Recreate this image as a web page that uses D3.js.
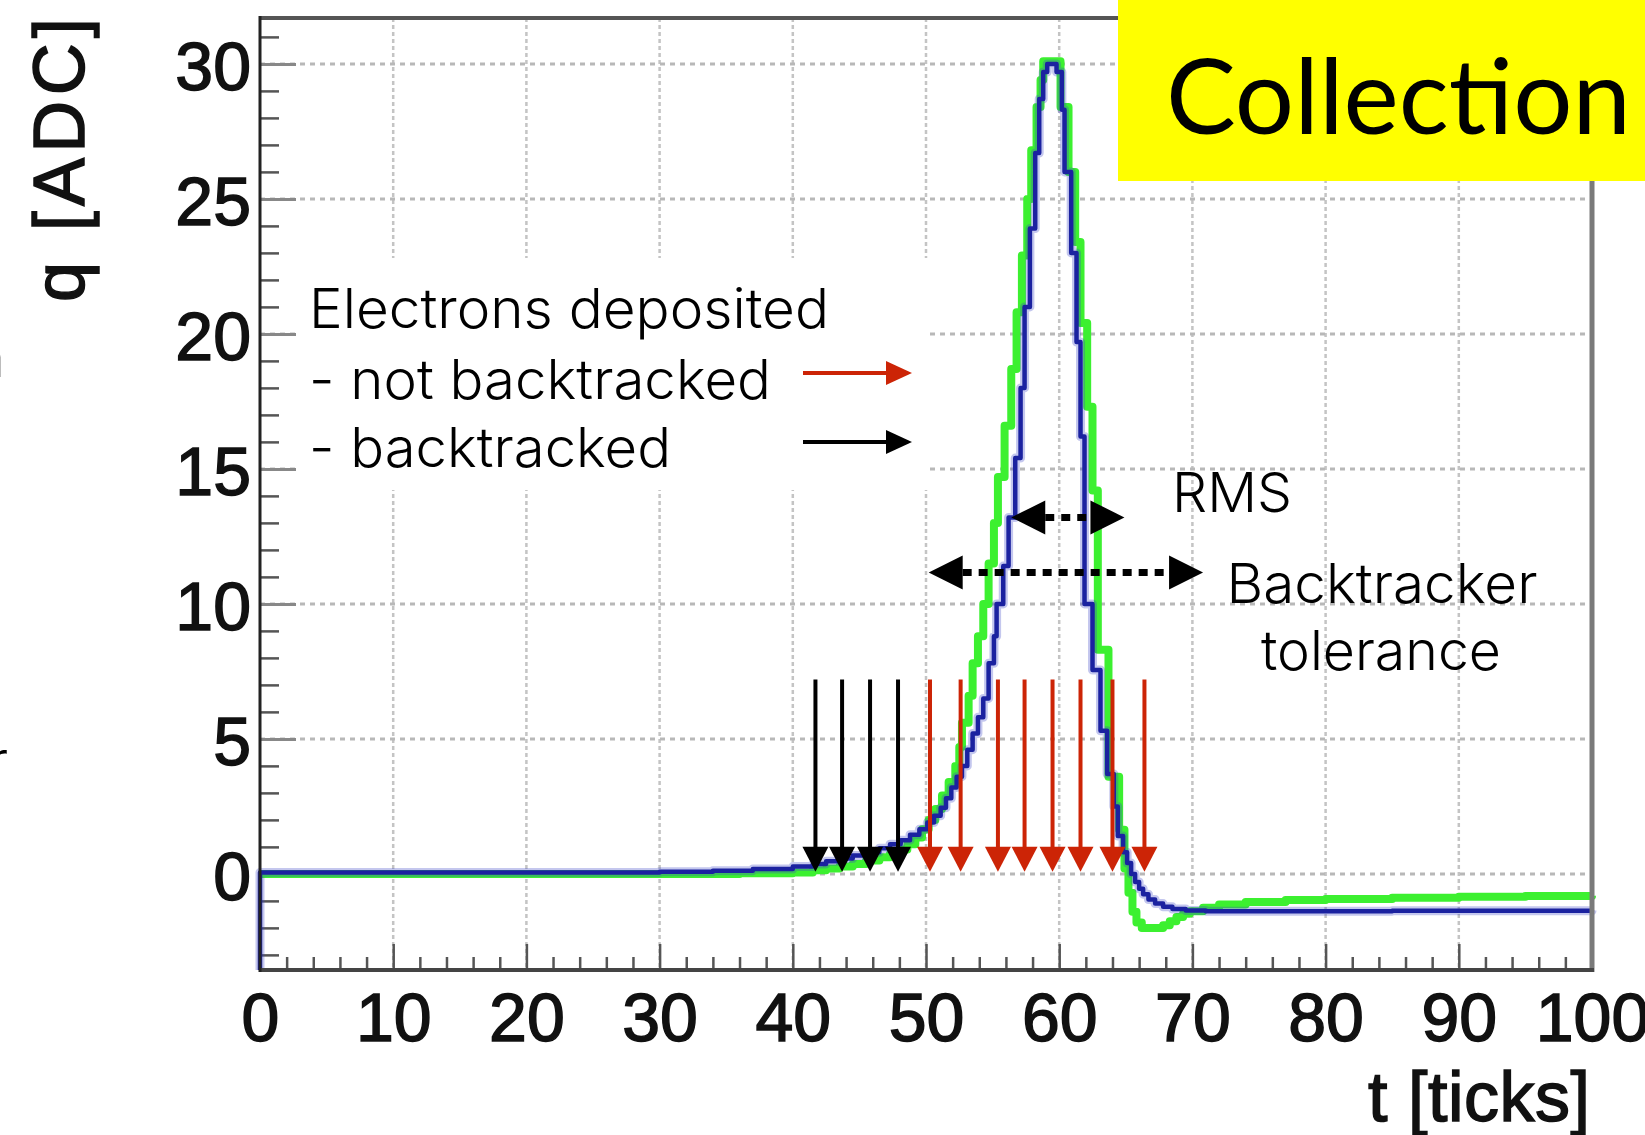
<!DOCTYPE html>
<html>
<head>
<meta charset="utf-8">
<script src="https://cdn.jsdelivr.net/npm/d3@7"></script>
<style>
	body { margin: 0; background: #fff; }
	svg { display: block; }
	.lbl { font-family: 'Liberation Sans', Arial, sans-serif; fill: #111; stroke: #111; stroke-width: 1.5px; }
	.note { font-family: Inter, Roboto, sans-serif; font-weight: 300; fill: #000; }
</style>
</head>
<body>
<div id="viz"></div>
<script>
const WIDTH = 1645
const HEIGHT = 1135

// blue histogram: bin start (ticks) and content (ADC)
const tBlue = [0, 30, 34, 37, 40, 41.5, 42.5, 43.5, 44.5, 45.5, 46.5, 47.3, 48.1, 48.8, 49.5, 50.1,
	50.6, 51.1, 51.5, 51.9, 52.3, 52.7, 53.1, 53.5, 53.9, 54.3, 54.7, 55.1, 55.3, 55.8, 56.2, 56.7,
	57.1, 57.4, 57.8, 58.2, 58.5, 58.8, 59.1, 59.8, 60.2, 60.4, 60.9, 61.3, 61.6, 61.9, 62.5, 63.1,
	63.6, 64.1, 64.4, 64.8, 65.1, 65.4, 65.7, 66.0, 66.3, 66.7, 67.2, 67.8, 68.5, 69.5, 71, 85, 100]
const qBlue = [0.05, 0.08, 0.12, 0.18, 0.27, 0.37, 0.47, 0.57, 0.68, 0.8, 0.95, 1.1, 1.25, 1.45, 1.65, 1.9,
	2.15, 2.45, 2.8, 3.2, 3.6, 4.0, 4.6, 5.2, 5.8, 6.5, 7.8, 8.8, 10.0, 11.4, 13.2, 15.4,
	18.0, 21.0, 23.9, 26.7, 28.7, 29.7, 30.0, 29.7, 28.3, 26.0, 23.0, 19.7, 16.2, 10.0, 7.55, 5.3,
	3.7, 2.5, 1.4, 0.8, 0.4, 0.0, -0.3, -0.55, -0.75, -0.95, -1.1, -1.22, -1.3, -1.36, -1.38, -1.37, -1.36]

// green histogram
const tGreen = [0, 36, 40, 41.5, 42.5, 43.5, 44.5, 45.5, 46.5, 47.3, 48.0, 48.6, 49.2, 49.7, 50.2,
	50.7, 51.2, 51.7, 52.2, 52.5, 52.7, 53.2, 53.5, 53.9, 54.3, 54.7, 55.1, 55.4, 55.9, 56.4, 56.8,
	57.2, 57.6, 57.9, 58.3, 58.6, 58.8, 60.1, 60.7, 61.2, 61.6, 62.1, 62.5, 62.9, 63.7, 64.5, 64.9,
	65.2, 65.5, 65.8, 66.2, 67.8, 68.3, 68.8, 69.3, 69.8, 70.8, 72, 74, 77, 80, 85, 90, 95, 100]
const qGreen = [0.0, 0.02, 0.05, 0.13, 0.2, 0.27, 0.37, 0.5, 0.62, 0.75, 0.9, 1.1, 1.35, 1.65, 2.0,
	2.4, 2.9, 3.4, 4.0, 4.7, 5.6, 6.6, 7.8, 8.8, 10.0, 11.5, 13.0, 14.7, 16.6, 18.7, 20.8,
	22.9, 25.0, 26.8, 28.4, 29.4, 30.1, 28.4, 26.0, 23.4, 20.4, 17.3, 14.2, 8.3, 3.6, 1.63, 0.2,
	-0.7, -1.4, -1.8, -2.0, -1.9, -1.75, -1.6, -1.48, -1.38, -1.25, -1.13, -1.04, -0.97, -0.93, -0.88, -0.85, -0.82, -0.81]

// deposited electrons (ticks)
const backtracked = [41.7, 43.7, 45.8, 47.9]
const notBacktracked = [50.3, 52.6, 55.4, 57.4, 59.5, 61.6, 64.0, 66.4]
const ARROW_TOP = 7.2
const ARROW_TIP = 0.08

// width arrows [from, to, level]
const rmsSpan = [56.4, 64.9, 13.2]
const toleranceSpan = [50.2, 70.8, 11.16]

const xMajor = d3.range(0, 101, 10)
const xMinor = d3.range(0, 101, 2).filter((v) => v % 10 !== 0)
const yMajor = [0, 5, 10, 15, 20, 25, 30]
const yMinor = d3.range(-3, 32, 1).filter((v) => v % 5 !== 0)

const x = d3.scaleLinear().domain([0, 100]).range([260, 1592])
const y = d3.scaleLinear().domain([-3.56, 31.7]).range([970, 18])

const svg = d3.select('#viz').append('svg').attr('width', WIDTH).attr('height', HEIGHT)

// grid
const grid = svg.append('g')
grid.selectAll('line.vg')
	.data(xMajor.filter((v) => v > 0 && v < 100))
	.enter()
	.append('line')
	.attr('x1', (d) => x(d)).attr('x2', (d) => x(d))
	.attr('y1', y.range()[1]).attr('y2', y.range()[0])
	.attr('stroke', '#c4c4c4').attr('stroke-width', 2.5).attr('stroke-dasharray', '4,3')
grid.selectAll('line.hg')
	.data(yMajor)
	.enter()
	.append('line')
	.attr('x1', x.range()[0]).attr('x2', x.range()[1])
	.attr('y1', (d) => y(d)).attr('y2', (d) => y(d))
	.attr('stroke', '#b8b8b8').attr('stroke-width', 3).attr('stroke-dasharray', '5,5')

// white box behind the legend
svg.append('rect')
	.attr('x', 297).attr('y', 258).attr('width', 631).attr('height', 232)
	.attr('fill', '#fff')

// axes
const yAxis = svg.append('g').attr('transform', `translate(${x.range()[0]},0)`)
	.call(d3.axisLeft(y).tickValues(yMajor).tickSizeInner(-36).tickSizeOuter(0).tickPadding(9))
yAxis.select('.domain').remove()
yAxis.selectAll('.tick line').attr('stroke', '#888').attr('stroke-width', 3)
yAxis.selectAll('.tick text').attr('class', 'lbl').attr('font-size', 68).attr('dy', '0.37em')

const yMinorAxis = svg.append('g').attr('transform', `translate(${x.range()[0]},0)`)
	.call(d3.axisLeft(y).tickValues(yMinor).tickSize(-19).tickFormat(''))
yMinorAxis.select('.domain').remove()
yMinorAxis.selectAll('.tick line').attr('stroke', '#555').attr('stroke-width', 2.5)

const xAxis = svg.append('g').attr('transform', `translate(0,${y.range()[0]})`)
	.call(d3.axisBottom(x).tickValues(xMajor).tickSizeInner(-26).tickSizeOuter(0).tickPadding(23))
xAxis.select('.domain').remove()
xAxis.selectAll('.tick line').attr('stroke', '#555').attr('stroke-width', 2.5)
xAxis.selectAll('.tick text').attr('class', 'lbl').attr('font-size', 68).attr('dy', '0.71em')

const xMinorAxis = svg.append('g').attr('transform', `translate(0,${y.range()[0]})`)
	.call(d3.axisBottom(x).tickValues(xMinor).tickSize(-13).tickFormat(''))
xMinorAxis.select('.domain').remove()
xMinorAxis.selectAll('.tick line').attr('stroke', '#555').attr('stroke-width', 2.5)

// curves
const step = d3.line().x((d) => x(d[0])).y((d) => y(d[1])).curve(d3.curveStepAfter)
const greenPts = tGreen.map((t, i) => [t, qGreen[i]])
const bluePts = [[0, y.domain()[0]]].concat(tBlue.map((t, i) => [t, qBlue[i]]))

svg.append('path').attr('d', step(greenPts))
	.attr('fill', 'none').attr('stroke', '#3cf030').attr('stroke-width', 8).attr('stroke-linejoin', 'round')
svg.append('path').attr('d', step(bluePts))
	.attr('fill', 'none').attr('stroke', 'rgba(60,70,200,0.3)').attr('stroke-width', 9).attr('stroke-linejoin', 'round')
svg.append('path').attr('d', step(bluePts))
	.attr('fill', 'none').attr('stroke', '#1b22a0').attr('stroke-width', 4.5).attr('stroke-linejoin', 'round')

// frame
svg.append('line').attr('x1', x(0)).attr('x2', x(100)).attr('y1', y.range()[1]).attr('y2', y.range()[1])
	.attr('stroke', '#555').attr('stroke-width', 4)
svg.append('line').attr('x1', x(100)).attr('x2', x(100)).attr('y1', y.range()[1]).attr('y2', y.range()[0] + 2)
	.attr('stroke', '#7a7a7a').attr('stroke-width', 5)
svg.append('line').attr('x1', x(0)).attr('x2', x(100) + 2).attr('y1', y.range()[0]).attr('y2', y.range()[0])
	.attr('stroke', '#444').attr('stroke-width', 4)
svg.append('line').attr('x1', x(0)).attr('x2', x(0)).attr('y1', y.range()[1] - 2).attr('y2', y.range()[0] + 2)
	.attr('stroke', '#222').attr('stroke-width', 3)

// deposit arrows
function downArrow(g, t, color) {
	const cx = x(t), tip = y(ARROW_TIP), base = tip - 25
	g.append('line').attr('x1', cx).attr('x2', cx).attr('y1', y(ARROW_TOP)).attr('y2', base + 2)
		.attr('stroke', color).attr('stroke-width', 4)
	g.append('path').attr('d', `M${cx - 13},${base}L${cx + 13},${base}L${cx},${tip}Z`).attr('fill', color)
}
const arrows = svg.append('g')
backtracked.forEach((t) => downArrow(arrows, t, '#000'))
notBacktracked.forEach((t) => downArrow(arrows, t, '#cc2406'))

// RMS and tolerance arrows
function spanArrow(span) {
	const x0 = x(span[0]), x1 = x(span[1]), yy = y(span[2]), hl = 34, hh = 17
	svg.append('line').attr('x1', x0 + hl).attr('x2', x1 - hl).attr('y1', yy).attr('y2', yy)
		.attr('stroke', '#000').attr('stroke-width', 7).attr('stroke-dasharray', '9,7')
	svg.append('path').attr('d', `M${x0},${yy}L${x0 + hl},${yy - hh}L${x0 + hl},${yy + hh}Z`).attr('fill', '#000')
	svg.append('path').attr('d', `M${x1},${yy}L${x1 - hl},${yy - hh}L${x1 - hl},${yy + hh}Z`).attr('fill', '#000')
}
spanArrow(rmsSpan)
spanArrow(toleranceSpan)

// text with its measured width in the slide
function note(txt, px, py, w, anchor) {
	return svg.append('text').attr('class', 'note').attr('font-size', 55)
		.attr('x', px).attr('y', py)
		.attr('text-anchor', anchor || 'start')
		.attr('textLength', w).attr('lengthAdjust', 'spacingAndGlyphs')
		.text(txt)
}

// legend
note('Electrons deposited', 309, 328, 520)
note('- not backtracked', 309, 399, 462)
note('- backtracked', 309, 467, 362)
function rightArrow(yy, color) {
	svg.append('line').attr('x1', 803).attr('x2', 890).attr('y1', yy).attr('y2', yy)
		.attr('stroke', color).attr('stroke-width', 4)
	svg.append('path').attr('d', `M886,${yy - 12}L912,${yy}L886,${yy + 12}Z`).attr('fill', color)
}
rightArrow(373, '#cc2406')
rightArrow(442, '#000')

note('RMS', 1172, 512, 120)
note('Backtracker', 1382, 603, 311, 'middle')
note('tolerance', 1381, 670, 240, 'middle')

// clipped words from neighbouring slide
svg.append('text').attr('class', 'note').attr('font-size', 56).attr('x', 5).attr('y', 377)
	.attr('text-anchor', 'end').text('n')
svg.append('text').attr('class', 'note').attr('font-size', 56).attr('x', 8).attr('y', 781)
	.attr('text-anchor', 'end').text('r')

// axis titles
svg.append('text').attr('class', 'lbl').attr('font-size', 72)
	.attr('transform', 'translate(84,302) rotate(-90)')
	.attr('textLength', 284).attr('lengthAdjust', 'spacing')
	.text('q [ADC]')
svg.append('text').attr('class', 'lbl').attr('font-size', 70)
	.attr('x', 1368).attr('y', 1121)
	.attr('textLength', 222).attr('lengthAdjust', 'spacing')
	.text('t [ticks]')

// Collection label
svg.append('rect').attr('x', 1118).attr('y', 0).attr('width', WIDTH - 1118).attr('height', 181).attr('fill', '#ffff00')
svg.append('text').attr('x', 1166).attr('y', 134)
	.attr('font-family', 'Lato, "Open Sans", sans-serif').attr('font-size', 104)
	.attr('textLength', 465).attr('lengthAdjust', 'spacingAndGlyphs')
	.text('Collection')
</script>
</body>
</html>
